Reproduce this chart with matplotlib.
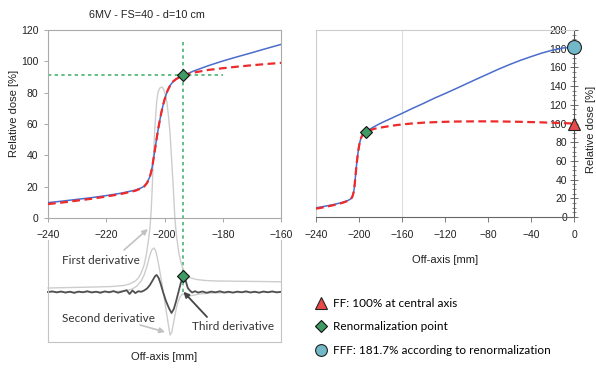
import matplotlib
matplotlib.use('Agg')
import matplotlib.pyplot as plt
from matplotlib.lines import Line2D
from matplotlib.ticker import MultipleLocator

plt.rcParams['font.family'] = ['Liberation Sans', 'DejaVu Sans']

# dose profiles (off-axis in mm, relative dose in %)
profile_x = [-240, -235, -230, -225, -220, -215, -210, -208, -207, -206,
             -205, -204.5, -204, -203.5, -203, -202.5, -202, -201.5, -201, -200.5,
             -200, -199.5, -199, -198.5, -198, -197, -196, -195, -194, -193.5,
             -192, -190, -185, -180, -175, -170, -165, -160, -150, -140,
             -130, -120, -110, -100, -90, -80, -70, -60, -50, -40,
             -30, -20, -10, 0]
fff_dose = [9.8, 10.8, 11.9, 13.0, 14.3, 15.8, 17.8, 19.2, 20.3, 22.5,
            26.5, 30, 35, 41, 47, 53, 58.5, 63.5, 68, 72,
            75.5, 78.5, 81, 83, 84.8, 87.2, 88.7, 89.7, 90.6, 91,
            92.2, 93.8, 97.2, 100.2, 102.9, 105.5, 108.2, 110.8, 116.3, 121.5,
            127, 132, 137.2, 142.5, 147.8, 153, 158.2, 163, 167.5, 171.5,
            175.3, 178.5, 180.8, 181.7]
ff_dose = [8.9, 9.9, 11.1, 12.3, 13.7, 15.3, 17.4, 18.9, 20.0, 22.3,
           26.5, 30, 35, 41, 47, 53, 58.5, 63.5, 68, 72,
           75.5, 78.5, 81, 83, 84.8, 87.2, 88.7, 89.7, 90.6, 91,
           91.8, 92.8, 94.5, 95.6, 96.6, 97.5, 98.3, 99.0, 100.1, 100.9,
           101.4, 101.8, 102.1, 102.2, 102.3, 102.3, 102.2, 102.0, 101.8, 101.5,
           101.2, 100.8, 100.4, 100.0]

renorm_x, renorm_y = -193.5, 91
ff_center = 100
fff_center = 181.7

# derivatives of the penumbra (arbitrary units, zero = baseline)
first_x = [-240, -232, -224, -218, -214, -212, -210, -209, -208, -207,
           -206.2, -205.5, -205, -204.6, -204.2, -203.8, -203.3, -202.7, -202.2, -201.6,
           -200.8, -200.2, -199.6, -199.2, -198.6, -198.1, -197.5, -197.0, -196.4, -195.8,
           -195, -194.2, -193.5, -192.5, -191, -189, -186, -182, -176, -170,
           -165, -160]
first_deriv = [4, 4.5, 5, 5.5, 6.5, 8, 11, 14, 19, 27,
               38, 52, 64, 80, 105, 135, 165, 190, 200, 204,
               205, 202, 196, 190, 175, 159, 130, 105, 72, 54,
               38, 28, 22, 17, 14, 12.5, 11.5, 11, 10.8, 10.6,
               10.4, 10.2]

second_x = [-240, -225, -216, -213, -211, -209.5, -208, -207, -206, -205.2,
            -204.4, -203.6, -203, -202.3, -201.5, -200.7, -200, -199.3, -198.6, -198.1,
            -197.5, -196.9, -196.2, -195.5, -194.7, -193.8, -193, -192, -190.5, -188,
            -184, -176, -160]
second_deriv = [0, 0, 0.5, 1.5, 3, 6, 11, 17, 26, 35,
                42, 44, 41, 32, 19, 5, -8, -21, -34, -43,
                -40, -31, -20, -11, -5, -2, -2.5, -4, -3.5, -2,
                -1, -0.5, 0]

third_x = [-240, -238.5, -237, -235.5, -234, -232.5, -231, -229.5, -228, -226.5,
           -225, -223.5, -222, -220.5, -219, -217.5, -216, -214.5, -213, -212,
           -211, -210, -209, -208, -207, -206, -205, -204, -203.2, -202.7,
           -202, -201.3, -200.5, -199.5, -198.5, -197.6, -196.8, -196, -195.2, -194.5,
           -194, -193.5, -193, -192.5, -192, -191.3, -190.5, -189.5, -188.5, -187,
           -185.5, -184, -182.5, -181, -179.5, -178, -176.5, -175, -173.5, -172,
           -170.5, -169, -167.5, -166, -164.5, -163, -161.5, -160]
third_deriv = [0, 0.6, -0.4, 0.5, -0.6, 0.3, -0.9, 0.4, -0.3, 0.8,
               -0.5, 0.3, -0.8, 0.6, -0.3, 0.9, -0.7, 0.5, 1.8, -2.0,
               1.5, -1.1, 0.8, 0.2, 1.5, 3.5, 7, 12, 16, 17,
               14, 8, 0, -9, -16, -21, -17, -9, 0, 8,
               13, 16, 14, 9, 4, 1.5, -0.5, 0.8, -0.6, 0.5,
               -0.8, 0.4, -0.3, 0.7, -0.5, 0.3, -0.6, 0.4, -0.3, 0.7,
               -0.5, 0.3, -0.7, 0.5, -0.3, 0.6, -0.4, 0.2]
renorm_third = 16

legend_labels = ['FF: 100% at central axis', 'Renormalization point',
                 'FFF: 181.7% according to renormalization']

BLUE = '#4a6ccc'
RED = '#ee2a2a'
GREEN = '#49b56e'
DIAMOND = '#3f9a63'
CIRCLE = '#72b8c9'
TRI = '#e84a4a'
LIGHT = '#cdcdcd'
DARK = '#505050'
ANNOT_FONT = ['Lato', 'DejaVu Sans']

W, H = 596, 369
fig = plt.figure(figsize=(W / 100, H / 100), dpi=100)


def box(l, t, r, b):
    return [l / W, 1 - b / H, (r - l) / W, (b - t) / H]


ax_der = fig.add_axes(box(48, 240, 281, 342))
ax = fig.add_axes(box(48, 30, 281, 218))
ax2 = fig.add_axes(box(316, 30, 574, 217))

# --- derivatives panel (below the zoomed profile) ---
ax_der.set_facecolor('none')
ax_der.set_xlim(-240, -160)
ax_der.set_ylim(-50, 52)
ax_der.set_xticks([])
ax_der.set_yticks([])
ax_der.spines['top'].set_visible(False)
for s in ('left', 'right', 'bottom'):
    ax_der.spines[s].set_color('#c4c4c4')
    ax_der.spines[s].set_linewidth(0.8)

ax_der.plot(first_x, first_deriv, color=LIGHT, lw=1.0, clip_on=False)
ax_der.plot(second_x, second_deriv, color=LIGHT, lw=1.0, clip_on=False)
ax_der.plot(third_x, third_deriv, color=DARK, lw=1.3, clip_on=False)
ax_der.plot([renorm_x, renorm_x], [0, 252], color=GREEN, lw=1.2,
            ls=(0, (2, 2)), clip_on=False, zorder=1)
ax_der.plot(renorm_x, renorm_third, 'D', ms=6, mfc=DIAMOND, mec='#111111',
            mew=0.8, clip_on=False, zorder=5)

ax_der.text(-235.2, 32, 'First derivative', ha='left', va='center',
            family=ANNOT_FONT, fontsize=8.5, color='#333333')
ax_der.text(-235.2, -26, 'Second derivative', ha='left', va='center',
            family=ANNOT_FONT, fontsize=8.5, color='#333333')
ax_der.text(-190.6, -35, 'Third derivative', ha='left', va='center',
            family=ANNOT_FONT, fontsize=8.5, color='#333333')
ax_der.annotate('', xy=(-205.7, 63), xytext=(-213.9, 42), annotation_clip=False,
                arrowprops=dict(arrowstyle='-|>', color='#c2c2c2', lw=1.2,
                                mutation_scale=8, shrinkA=0, shrinkB=0))
ax_der.annotate('', xy=(-199.8, -40), xytext=(-208.4, -33), annotation_clip=False,
                arrowprops=dict(arrowstyle='-|>', color='#c2c2c2', lw=1.2,
                                mutation_scale=8, shrinkA=0, shrinkB=0))
ax_der.annotate('', xy=(-193.5, 0.3), xytext=(-185.4, -25), annotation_clip=False,
                arrowprops=dict(arrowstyle='-|>', color='#444444', lw=1.3,
                                mutation_scale=8, shrinkA=0, shrinkB=0))

# --- zoomed penumbra ---
ax.set_facecolor('none')
ax.plot(profile_x, fff_dose, color=BLUE, lw=1.1, zorder=3)
ax.plot(profile_x, ff_dose, color=RED, lw=1.6, ls=(0, (3.5, 2)), zorder=4)
ax.plot([-240, -180], [renorm_y, renorm_y], color=GREEN, lw=1.2,
        ls=(0, (2, 2)), zorder=2)
ax.plot(renorm_x, renorm_y, 'D', ms=6.5, mfc=DIAMOND, mec='#111111',
        mew=0.8, zorder=6)
ax.set_xlim(-240, -160)
ax.set_ylim(0, 120)
ax.set_xticks(range(-240, -159, 20))
ax.set_yticks(range(0, 121, 20))
for s in ax.spines.values():
    s.set_color('#aaaaaa')
    s.set_linewidth(0.8)
ax.tick_params(direction='out', length=3, width=0.6, color='#999999',
               labelsize=7.5, labelcolor='#222222')
ax.tick_params(axis='x', pad=6)
ax.tick_params(axis='y', pad=4)

# --- full half profile ---
ax2.plot(profile_x, fff_dose, color=BLUE, lw=1.1, zorder=3)
ax2.plot(profile_x, ff_dose, color=RED, lw=1.6, ls=(0, (3.5, 2)), zorder=4)
ax2.axvline(-160, color='#dddddd', lw=0.8, zorder=1)
ax2.axvline(-240, color='#cccccc', lw=0.8, zorder=1)
ax2.plot(renorm_x, renorm_y, 'D', ms=6.5, mfc=DIAMOND, mec='#111111',
         mew=0.8, zorder=6)
ax2.plot(0, ff_center, '^', ms=9, mfc=TRI, mec='#222222', mew=0.8,
         clip_on=False, zorder=7)
ax2.plot(0, fff_center, 'o', ms=10, mfc=CIRCLE, mec='#222222', mew=0.8,
         clip_on=False, zorder=7)
ax2.set_xlim(-240, 0)
ax2.set_ylim(0, 200)
ax2.set_xticks(range(-240, 1, 40))
ax2.set_yticks(range(0, 201, 20))
ax2.yaxis.set_minor_locator(MultipleLocator(5))
ax2.spines['left'].set_position(('data', 0))
ax2.spines['left'].set_color('#555555')
ax2.spines['right'].set_visible(False)
ax2.spines['top'].set_color('#cccccc')
ax2.spines['bottom'].set_color('#666666')
for s in ax2.spines.values():
    s.set_linewidth(0.8)
ax2.tick_params(axis='x', direction='out', length=3.5, width=0.6,
                color='#666666', labelsize=7.5, labelcolor='#222222', pad=6)
ax2.tick_params(axis='y', which='major', direction='inout', length=6, width=0.6,
                color='#555555', labelsize=7.5, labelcolor='#222222', pad=2)
ax2.tick_params(axis='y', which='minor', direction='inout', length=3.5,
                width=0.5, color='#555555')

# --- titles and axis labels ---
fig.text(147 / W, 1 - 15 / H, '6MV - FS=40 - d=10 cm', ha='center', va='center',
         fontsize=7.8, color='#222222')
fig.text(14 / W, 1 - 113 / H, 'Relative dose [%]', rotation=90, ha='center',
         va='center', fontsize=8, color='#222222')
fig.text(164.5 / W, 1 - 357 / H, 'Off-axis [mm]', ha='center', va='center',
         fontsize=8, color='#222222')
fig.text(445 / W, 1 - 260 / H, 'Off-axis [mm]', ha='center', va='center',
         fontsize=8, color='#222222')
fig.text(590.5 / W, 1 - 129.5 / H, 'Relative dose [%]', rotation=90, ha='center',
         va='center', fontsize=8, color='#222222')

# --- marker key ---
handles = [
    Line2D([], [], ls='none', marker='^', ms=8, mfc=TRI, mec='#222222', mew=0.8),
    Line2D([], [], ls='none', marker='D', ms=6, mfc=DIAMOND, mec='#111111', mew=0.8),
    Line2D([], [], ls='none', marker='o', ms=8.5, mfc=CIRCLE, mec='#222222', mew=0.8),
]
fig.legend(handles, legend_labels, loc='upper left',
           bbox_to_anchor=(309.5 / W, 1 - 292 / H), frameon=False, borderpad=0,
           handlelength=1.0, handletextpad=0.5, labelspacing=1.05,
           prop={'family': ANNOT_FONT, 'size': 8.5})

fig.savefig('out.png', dpi=100)
